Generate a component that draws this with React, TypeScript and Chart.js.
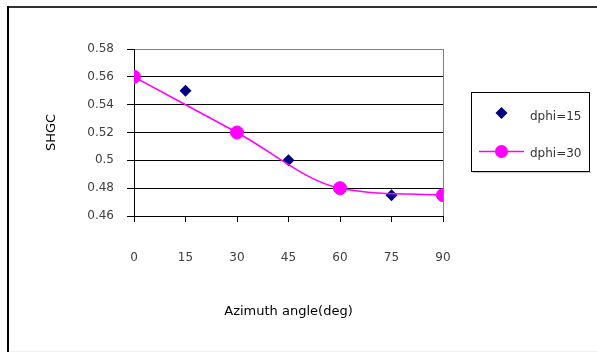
import { useEffect, useRef } from "react";
import { Chart, registerables } from "chart.js";
Chart.register(...registerables);

const angles15 = [0, 15, 30, 45, 60, 75, 90];
const dphi15 = [0.56, 0.55, 0.52, 0.5, 0.48, 0.475, 0.475];
const angles30 = [0, 30, 60, 90];
const dphi30 = [0.56, 0.52, 0.48, 0.475];
const seriesNames = ["dphi=15", "dphi=30"];
const xTitle = "Azimuth angle(deg)";
const yTitle = "SHGC";

const FONT = "'DejaVu Sans', Verdana, sans-serif";

const decorPlugin = {
  id: "decor",
  afterDraw(chart: any) {
    const ctx = chart.ctx;
    const a = chart.chartArea;
    ctx.save();
    // plot area right border (gray)
    ctx.strokeStyle = "#808080";
    ctx.lineWidth = 1;
    ctx.beginPath();
    ctx.moveTo(Math.round(a.right) + 0.5, Math.round(a.top));
    ctx.lineTo(Math.round(a.right) + 0.5, Math.round(a.bottom));
    ctx.stroke();

    // outer frame
    ctx.fillStyle = "#333";
    ctx.fillRect(7, 6, 590, 2);
    ctx.fillStyle = "#000";
    ctx.fillRect(7, 6, 2, 346);
    ctx.fillStyle = "#eeeeee";
    ctx.fillRect(9, 351, 588, 1);

    // legend
    const lx = 471, ly = 92, lw = 118, lh = 79;
    ctx.fillStyle = "#c8c8c8";
    ctx.fillRect(lx + 2, ly + lh + 1, lw, 1);
    ctx.fillStyle = "#fff";
    ctx.fillRect(lx, ly, lw, lh);
    ctx.strokeStyle = "#000";
    ctx.lineWidth = 1;
    ctx.strokeRect(lx + 0.5, ly + 0.5, lw, lh);

    // entry 1: diamond
    const cx = 501.5;
    ctx.fillStyle = "#000080";
    ctx.beginPath();
    ctx.moveTo(cx - 6, 113);
    ctx.lineTo(cx, 107);
    ctx.lineTo(cx + 6, 113);
    ctx.lineTo(cx, 119);
    ctx.closePath();
    ctx.fill();

    // entry 2: line + circle
    ctx.strokeStyle = "#FF00FF";
    ctx.lineWidth = 1.5;
    ctx.beginPath();
    ctx.moveTo(479, 151.5);
    ctx.lineTo(524, 151.5);
    ctx.stroke();
    ctx.fillStyle = "#FF00FF";
    ctx.beginPath();
    ctx.arc(cx, 151.5, 6.5, 0, Math.PI * 2);
    ctx.fill();

    ctx.fillStyle = "#333";
    ctx.font = "12px " + FONT;
    ctx.textAlign = "left";
    ctx.textBaseline = "middle";
    ctx.fillText(seriesNames[0], 530, 116.5);
    ctx.fillText(seriesNames[1], 530, 154);
    ctx.restore();
  },
};

export default function App() {
  const ref = useRef<HTMLCanvasElement>(null);
  useEffect(() => {
    if (!ref.current) return;
    const chart = new Chart(ref.current, {
      type: "line",
      data: {
        datasets: [
          {
            label: seriesNames[0],
            data: angles15.map((x, i) => ({ x, y: dphi15[i] })),
            showLine: false,
            pointStyle: "rectRot",
            pointRadius: 6,
            pointBorderWidth: 0,
            backgroundColor: "#000080",
            borderColor: "#000080",
            order: 1,
          },
          {
            label: seriesNames[1],
            data: angles30.map((x, i) => ({ x, y: dphi30[i] })),
            showLine: true,
            cubicInterpolationMode: "monotone",
            borderColor: "#FF00FF",
            borderWidth: 1.5,
            pointStyle: "circle",
            pointRadius: 6.5,
            pointBorderWidth: 1,
            pointBackgroundColor: "#FF00FF",
            pointBorderColor: "#FF00FF",
            order: 0,
          },
        ],
      },
      options: {
        responsive: false,
        animation: false,
        layout: { padding: { top: 49, right: 154, left: 0, bottom: 0 } },
        plugins: {
          legend: { display: false },
          tooltip: { enabled: false },
        },
        scales: {
          x: {
            type: "linear",
            min: 0,
            max: 90,
            afterFit: (s: any) => {
              s.height = 136;
            },
            ticks: {
              stepSize: 15,
              padding: 29,
              color: "#404040",
              font: { family: FONT, size: 12 },
            },
            grid: {
              drawOnChartArea: false,
              drawTicks: true,
              tickLength: 6,
              tickColor: "#000",
            },
            border: { display: true, color: "#000", width: 1 },
            title: {
              display: true,
              text: xTitle,
              color: "#000",
              font: { family: FONT, size: 13 },
              padding: { top: 0, bottom: 33 },
            },
          },
          y: {
            type: "linear",
            min: 0.46,
            max: 0.58,
            afterFit: (s: any) => {
              s.width = 134;
            },
            ticks: {
              stepSize: 0.02,
              padding: 13,
              color: "#404040",
              font: { family: FONT, size: 12 },
              callback: (v: any) => String(+Number(v).toFixed(2)),
            },
            grid: {
              drawTicks: true,
              tickLength: 7,
              tickColor: "#000",
              color: (c: any) =>
                c.tick && Math.abs(c.tick.value - 0.58) < 1e-6 ? "#808080" : "#000",
              lineWidth: 1,
            },
            border: { display: true, color: "#000", width: 1 },
            title: {
              display: true,
              text: yTitle,
              color: "#000",
              font: { family: FONT, size: 13 },
              padding: { top: 44, bottom: 0 },
            },
          },
        },
      },
      plugins: [decorPlugin],
    } as any);
    return () => chart.destroy();
  }, []);
  return (
    <div style={{ position: "fixed", left: 0, top: 0, width: 597, height: 352, background: "#fff" }}>
      <canvas ref={ref} width={597} height={352} style={{ display: "block" }} />
    </div>
  );
}
